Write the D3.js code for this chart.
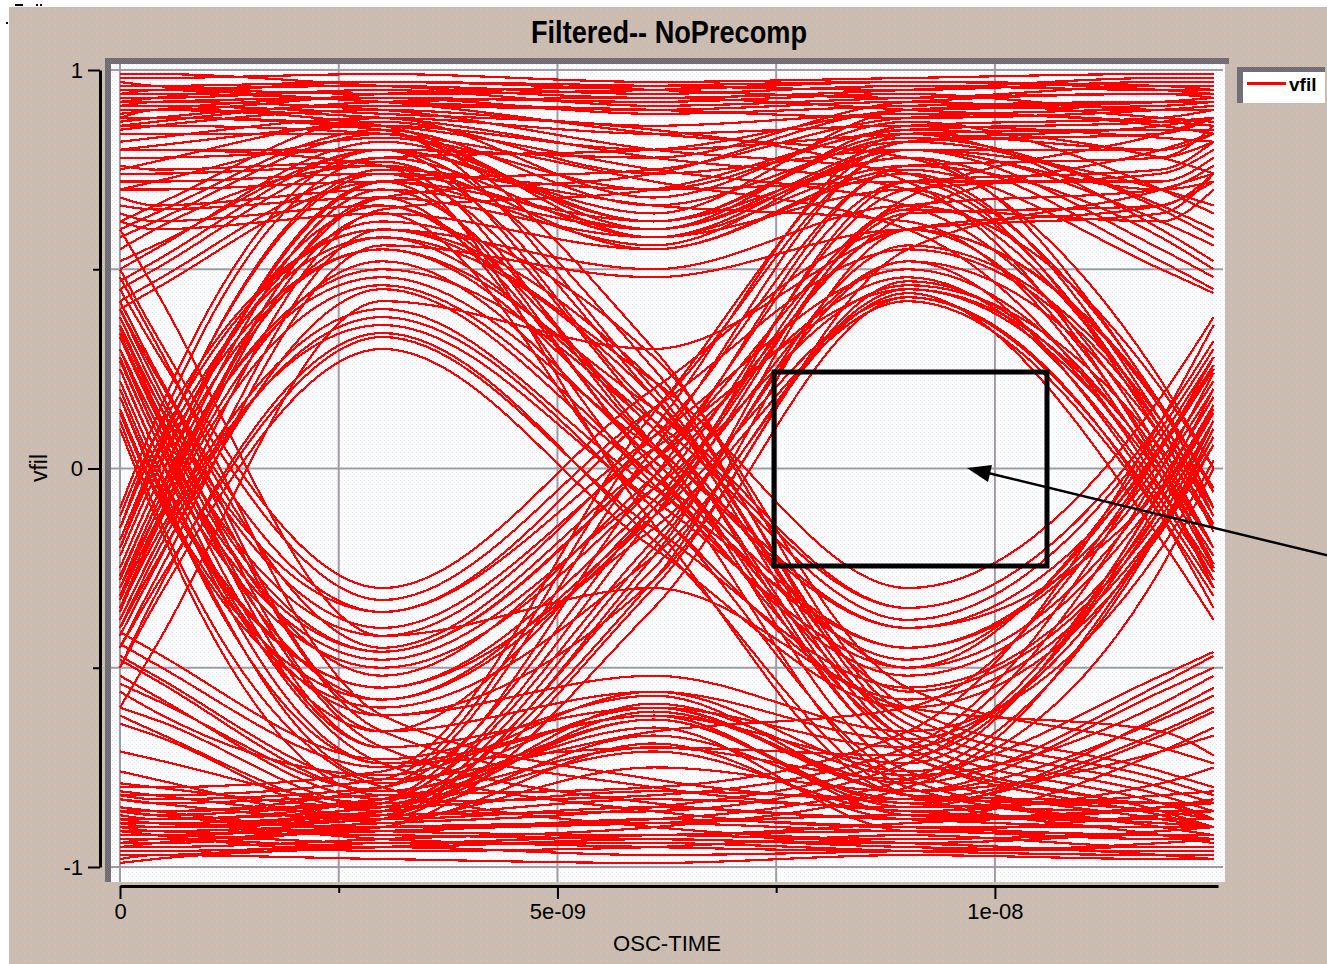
<!DOCTYPE html>
<html>
<head>
<meta charset="utf-8">
<script src="https://cdn.jsdelivr.net/npm/d3@7"></script>
<style>
  body { margin: 0; background: #fff; }
  svg { display: block; font-family: "Liberation Sans", Arial, sans-serif; }
</style>
</head>
<body>
<svg id="chart" width="1327" height="964"></svg>
<script>
// sample instants of every trace (seconds): start, crossing, eye centre, crossing, eye centre, crossing, end
var knotTimes = [0, 0.4e-9, 3.0e-9, 6.1e-9, 9.0e-9, 11.9e-9, 12.5e-9];

// long runs of ones / zeros
var runHigh = [
  [0.98,0.98,0.99,0.97,0.98,0.99,0.99],
  [0.96,0.96,0.97,0.96,0.95,0.97,0.97],
  [0.94,0.95,0.96,0.94,0.96,0.95,0.95],
  [0.93,0.93,0.95,0.91,0.93,0.94,0.93],
  [0.91,0.92,0.93,0.92,0.94,0.90,0.90],
  [0.89,0.90,0.93,0.89,0.91,0.92,0.92],
  [0.87,0.88,0.91,0.90,0.92,0.88,0.87],
  [0.85,0.86,0.90,0.86,0.89,0.87,0.86],
  [0.97,0.96,0.94,0.95,0.97,0.96,0.95],
  [0.92,0.93,0.97,0.95,0.93,0.96,0.96],
  [0.95,0.95,0.92,0.90,0.88,0.90,0.91],
  [0.90,0.90,0.94,0.96,0.97,0.95,0.94],
  [0.82,0.83,0.88,0.84,0.86,0.83,0.82],
  [0.80,0.81,0.86,0.80,0.84,0.85,0.85],
  [0.99,0.99,0.96,0.93,0.95,0.98,0.98],
  [0.86,0.87,0.92,0.93,0.90,0.86,0.84],
  [0.70,0.72,0.83,0.70,0.85,0.78,0.74],
  [0.75,0.77,0.87,0.74,0.80,0.70,0.66]
];
var runLow = [
  [-0.98,-0.97,-0.98,-0.99,-0.97,-0.98,-0.98],
  [-0.96,-0.96,-0.95,-0.97,-0.96,-0.95,-0.95],
  [-0.94,-0.93,-0.95,-0.93,-0.95,-0.96,-0.96],
  [-0.92,-0.92,-0.94,-0.92,-0.91,-0.93,-0.93],
  [-0.90,-0.91,-0.92,-0.93,-0.94,-0.91,-0.90],
  [-0.88,-0.89,-0.91,-0.88,-0.90,-0.92,-0.92],
  [-0.86,-0.87,-0.90,-0.89,-0.91,-0.87,-0.86],
  [-0.83,-0.84,-0.88,-0.85,-0.88,-0.85,-0.84],
  [-0.97,-0.97,-0.94,-0.94,-0.96,-0.97,-0.97],
  [-0.91,-0.92,-0.96,-0.95,-0.92,-0.95,-0.95],
  [-0.95,-0.94,-0.91,-0.89,-0.87,-0.89,-0.90],
  [-0.89,-0.89,-0.93,-0.95,-0.96,-0.94,-0.93],
  [-0.81,-0.82,-0.87,-0.83,-0.85,-0.82,-0.81],
  [-0.79,-0.80,-0.85,-0.81,-0.83,-0.84,-0.84],
  [-0.99,-0.98,-0.95,-0.92,-0.94,-0.97,-0.98],
  [-0.85,-0.86,-0.91,-0.92,-0.89,-0.85,-0.83],
  [-0.71,-0.73,-0.84,-0.71,-0.86,-0.79,-0.75],
  [-0.76,-0.78,-0.88,-0.75,-0.81,-0.71,-0.67]
];

// runs of the same level that sag at the bit boundaries
var highDip = [
  [0.45,0.50,0.78,0.58,0.80,0.55,0.48],
  [0.50,0.55,0.82,0.62,0.84,0.60,0.52],
  [0.55,0.60,0.76,0.55,0.75,0.50,0.44],
  [0.60,0.64,0.85,0.66,0.82,0.65,0.58],
  [0.42,0.47,0.74,0.60,0.86,0.88,0.90],
  [0.88,0.90,0.86,0.60,0.78,0.52,0.45],
  [0.52,0.56,0.80,0.64,0.90,0.92,0.92],
  [0.58,0.62,0.84,0.58,0.76,0.58,0.50],
  [0.47,0.52,0.80,0.62,0.83,0.66,0.60],
  [0.62,0.66,0.88,0.68,0.87,0.70,0.64],
  [0.40,0.45,0.72,0.56,0.80,0.62,0.56]
];
var lowDip = [
  [-0.47,-0.52,-0.79,-0.60,-0.81,-0.56,-0.50],
  [-0.52,-0.57,-0.83,-0.63,-0.85,-0.62,-0.55],
  [-0.56,-0.61,-0.77,-0.56,-0.76,-0.52,-0.46],
  [-0.62,-0.66,-0.86,-0.67,-0.83,-0.66,-0.60],
  [-0.44,-0.49,-0.75,-0.62,-0.87,-0.89,-0.90],
  [-0.89,-0.90,-0.87,-0.61,-0.79,-0.54,-0.47],
  [-0.54,-0.58,-0.81,-0.65,-0.91,-0.92,-0.93],
  [-0.60,-0.63,-0.85,-0.59,-0.77,-0.59,-0.52],
  [-0.48,-0.53,-0.81,-0.63,-0.84,-0.67,-0.61],
  [-0.64,-0.67,-0.89,-0.69,-0.88,-0.71,-0.65],
  [-0.41,-0.46,-0.73,-0.57,-0.81,-0.63,-0.57]
];

// traces starting low (previous bit 0)
var fromLow = [
  // 0 0 0 1
  [-0.92,-0.92,-0.90,-0.88,-0.78,-0.15,0.10],
  [-0.86,-0.87,-0.84,-0.82,-0.70,0.05,0.28],
  [-0.95,-0.95,-0.93,-0.90,-0.80,-0.25,0.00],
  [-0.89,-0.90,-0.87,-0.86,-0.74,-0.05,0.20],
  [-0.83,-0.84,-0.82,-0.80,-0.66,0.12,0.36],
  [-0.91,-0.91,-0.89,-0.85,-0.72,0.00,0.24],
  // 0 0 1 0
  [-0.88,-0.89,-0.86,-0.25,0.45,0.00,-0.25],
  [-0.93,-0.93,-0.90,-0.35,0.43,-0.12,-0.35],
  [-0.82,-0.83,-0.80,-0.10,0.60,0.15,-0.10],
  [-0.90,-0.90,-0.88,-0.30,0.47,-0.05,-0.30],
  [-0.86,-0.86,-0.83,-0.18,0.52,0.08,-0.16],
  [-0.87,-0.88,-0.85,-0.20,0.56,0.12,-0.12],
  // 0 0 1 1
  [-0.90,-0.90,-0.84,-0.12,0.72,0.75,0.82],
  [-0.85,-0.86,-0.80,0.05,0.80,0.70,0.72],
  [-0.94,-0.94,-0.88,-0.22,0.65,0.62,0.70],
  [-0.88,-0.88,-0.83,-0.02,0.76,0.78,0.86],
  [-0.82,-0.82,-0.78,0.10,0.84,0.80,0.84],
  [-0.92,-0.92,-0.86,-0.28,0.60,0.64,0.74],
  [-0.80,-0.80,-0.76,0.14,0.82,0.84,0.88],
  // 0 1 0 0
  [-0.30,-0.10,0.50,0.10,-0.70,-0.86,-0.90],
  [-0.40,-0.22,0.38,-0.10,-0.78,-0.90,-0.92],
  [-0.15,0.05,0.60,0.22,-0.62,-0.78,-0.82],
  [-0.25,-0.05,0.55,0.05,-0.72,-0.87,-0.90],
  [-0.50,-0.32,0.34,-0.18,-0.82,-0.92,-0.94],
  [-0.18,0.02,0.58,0.18,-0.66,-0.82,-0.86],
  [-0.22,-0.02,0.62,0.28,-0.55,-0.70,-0.74],
  [-0.33,-0.14,0.52,0.02,-0.64,-0.80,-0.84],
  [-0.36,-0.16,0.46,-0.02,-0.68,-0.84,-0.88],
  // 0 1 0 1
  [-0.35,-0.18,0.40,-0.05,-0.45,0.02,0.22],
  [-0.20,0.00,0.55,0.15,-0.35,0.12,0.32],
  [-0.45,-0.30,0.33,-0.15,-0.55,-0.10,0.12],
  [-0.28,-0.08,0.48,0.05,-0.40,-0.05,0.15],
  [-0.38,-0.20,0.36,-0.08,-0.50,-0.03,0.18],
  [-0.12,0.08,0.60,0.22,-0.30,0.18,0.38],
  [-0.50,-0.34,0.30,-0.20,-0.60,-0.16,0.06],
  [-0.40,-0.24,0.45,-0.02,-0.48,0.06,0.26],
  [-0.30,-0.10,0.58,0.12,-0.38,0.10,0.30],
  [-0.22,-0.02,0.66,0.10,-0.50,0.08,0.28],
  // 0 1 1 0
  [-0.30,-0.12,0.68,0.58,0.70,0.10,-0.12],
  [-0.20,0.02,0.75,0.66,0.62,-0.02,-0.25],
  [-0.42,-0.25,0.60,0.50,0.66,0.20,0.00],
  [-0.35,-0.15,0.64,0.55,0.74,0.12,-0.10],
  [-0.25,-0.05,0.72,0.62,0.78,0.16,-0.05],
  [-0.45,-0.28,0.56,0.48,0.60,0.02,-0.20],
  [-0.18,0.03,0.74,0.70,0.72,0.08,-0.14],
  // 0 1 1 1
  [-0.25,-0.05,0.72,0.75,0.88,0.90,0.90],
  [-0.15,0.08,0.78,0.80,0.90,0.92,0.93],
  [-0.38,-0.20,0.65,0.70,0.85,0.87,0.88],
  [-0.10,0.12,0.80,0.78,0.92,0.94,0.94],
  [-0.32,-0.12,0.68,0.74,0.90,0.91,0.92],
  [-0.27,-0.08,0.70,0.60,0.82,0.86,0.88],
  [-0.60,-0.45,0.42,0.30,0.60,0.66,0.72]
];

// traces starting high (previous bit 1)
var fromHigh = [
  // 1 0 0 0
  [0.25,0.05,-0.74,-0.86,-0.90,-0.90,-0.90],
  [0.40,0.22,-0.66,-0.80,-0.86,-0.88,-0.88],
  [0.12,-0.10,-0.80,-0.90,-0.93,-0.92,-0.92],
  [0.30,0.12,-0.70,-0.84,-0.88,-0.90,-0.90],
  [0.48,0.32,-0.62,-0.78,-0.84,-0.86,-0.86],
  [0.27,0.08,-0.70,-0.60,-0.82,-0.86,-0.88],
  [0.60,0.45,-0.42,-0.30,-0.60,-0.66,-0.72],
  // 1 0 0 1
  [0.30,0.12,-0.70,-0.60,-0.70,-0.10,0.12],
  [0.18,-0.02,-0.78,-0.66,-0.60,0.05,0.26],
  [0.42,0.25,-0.62,-0.52,-0.66,-0.20,0.02],
  [0.22,0.02,-0.74,-0.62,-0.74,-0.06,0.16],
  [0.10,-0.12,-0.82,-0.70,-0.78,-0.15,0.06],
  [0.36,0.18,-0.66,-0.56,-0.68,-0.14,0.08],
  [0.18,-0.03,-0.74,-0.70,-0.72,-0.08,0.14],
  // 1 0 1 0
  [0.35,0.18,-0.40,0.05,0.45,-0.02,-0.22],
  [0.20,0.00,-0.55,-0.15,0.42,-0.12,-0.32],
  [0.45,0.30,-0.33,0.15,0.55,0.10,-0.12],
  [0.28,0.08,-0.48,-0.05,0.46,0.05,-0.15],
  [0.38,0.20,-0.36,0.08,0.50,0.00,-0.20],
  [0.14,-0.06,-0.60,-0.22,0.44,-0.18,-0.38],
  [0.50,0.34,-0.30,0.20,0.60,0.16,-0.06],
  [0.40,0.24,-0.45,0.02,0.48,-0.06,-0.26],
  [0.30,0.10,-0.58,-0.12,0.43,-0.10,-0.30],
  [0.22,0.02,-0.66,-0.10,0.52,-0.08,-0.28],
  // 1 0 1 1
  [0.30,0.10,-0.46,0.02,0.72,0.72,0.78],
  [0.15,-0.05,-0.58,-0.12,0.64,0.66,0.74],
  [0.42,0.25,-0.36,0.15,0.80,0.80,0.84],
  [0.25,0.05,-0.50,-0.05,0.70,0.74,0.80],
  [0.34,0.15,-0.42,0.08,0.76,0.78,0.82],
  [0.18,-0.02,-0.55,-0.08,0.66,0.70,0.76],
  [0.22,0.02,-0.62,-0.28,0.55,0.70,0.74],
  [0.33,0.14,-0.52,-0.02,0.64,0.80,0.84],
  [0.36,0.16,-0.46,0.02,0.68,0.84,0.88],
  // 1 1 0 0
  [0.72,0.72,0.74,0.12,-0.72,-0.86,-0.90],
  [0.80,0.80,0.80,0.25,-0.64,-0.80,-0.84],
  [0.64,0.62,0.66,0.00,-0.80,-0.90,-0.92],
  [0.76,0.75,0.77,0.18,-0.68,-0.84,-0.88],
  [0.68,0.66,0.70,0.06,-0.76,-0.88,-0.90],
  [0.84,0.84,0.84,0.30,-0.60,-0.76,-0.80],
  [0.80,0.80,0.76,-0.14,-0.82,-0.84,-0.88],
  // 1 1 0 1
  [0.70,0.70,0.72,0.02,-0.45,0.00,0.20],
  [0.78,0.78,0.80,0.15,-0.35,0.12,0.32],
  [0.62,0.60,0.64,-0.10,-0.58,-0.14,0.08],
  [0.74,0.74,0.76,0.06,-0.40,0.05,0.25],
  [0.66,0.65,0.68,-0.04,-0.52,-0.06,0.14],
  [0.87,0.88,0.85,0.20,-0.56,-0.12,0.12],
  // 1 1 1 0
  [0.90,0.90,0.88,0.78,0.70,0.10,-0.12],
  [0.86,0.86,0.84,0.72,0.60,-0.05,-0.28],
  [0.94,0.94,0.92,0.84,0.78,0.22,0.00],
  [0.88,0.88,0.86,0.75,0.66,0.04,-0.20],
  [0.92,0.92,0.90,0.80,0.74,0.16,-0.06],
  [0.91,0.91,0.89,0.85,0.72,0.00,-0.24]
];

var traces = [].concat(runHigh, runLow, highDip, lowDip, fromLow, fromHigh);

var xTicks = [0, 5e-9, 1e-8];
var xTickLabels = ["0", "5e-09", "1e-08"];
var xMinorTicks = [2.5e-9, 7.5e-9];
var yTicks = [1, 0, -1];
var yTickLabels = ["1", "0", "-1"];
var yMinorTicks = [0.5, -0.5];
var gridX = [0, 2.5e-9, 5e-9, 7.5e-9, 1e-8];
var gridY = [1, 0.5, 0, -0.5, -1];

var svg = d3.select("#chart");

var x = d3.scaleLinear().domain([0, 1.255e-8]).range([120, 1218]);
var y = d3.scaleLinear().domain([-1, 1]).range([867, 70]);

// dithered fills
var defs = svg.append("defs");
var bg = defs.append("pattern").attr("id", "bgDots").attr("patternUnits", "userSpaceOnUse")
  .attr("width", 6).attr("height", 8);
bg.append("rect").attr("width", 6).attr("height", 8).attr("fill", "#cabdaf");
bg.append("rect").attr("x", 1).attr("y", 0).attr("width", 1).attr("height", 2).attr("fill", "#efb8a4");
bg.append("rect").attr("x", 4).attr("y", 4).attr("width", 1).attr("height", 2).attr("fill", "#c2b6ee");

var pd = defs.append("pattern").attr("id", "plotDots").attr("patternUnits", "userSpaceOnUse")
  .attr("width", 4).attr("height", 4);
pd.append("rect").attr("width", 4).attr("height", 4).attr("fill", "#ffffff");
pd.append("rect").attr("x", 0).attr("y", 0).attr("width", 1).attr("height", 1).attr("fill", "#ffd6ff");
pd.append("rect").attr("x", 2).attr("y", 2).attr("width", 1).attr("height", 1).attr("fill", "#ccffff");

var fr = defs.append("pattern").attr("id", "frameDots").attr("patternUnits", "userSpaceOnUse")
  .attr("width", 2).attr("height", 2);
fr.append("rect").attr("width", 2).attr("height", 2).attr("fill", "#7e7a5e");
fr.append("rect").attr("x", 1).attr("y", 0).attr("width", 1).attr("height", 1).attr("fill", "#66648e");
fr.append("rect").attr("x", 0).attr("y", 1).attr("width", 1).attr("height", 1).attr("fill", "#66648e");

svg.append("rect").attr("width", 1327).attr("height", 964).attr("fill", "#fff");
svg.append("rect").attr("x", 9).attr("y", 7).attr("width", 1318).attr("height", 957).attr("fill", "url(#bgDots)");

// stray marks in the top left corner
svg.append("rect").attr("x", 15).attr("y", 4).attr("width", 8).attr("height", 2).attr("fill", "#000");
svg.append("rect").attr("x", 36).attr("y", 4).attr("width", 2).attr("height", 2).attr("fill", "#000");
svg.append("rect").attr("x", 40).attr("y", 4).attr("width", 2).attr("height", 2).attr("fill", "#000");
svg.append("rect").attr("x", 6).attr("y", 22).attr("width", 2).attr("height", 2).attr("fill", "#000");

svg.append("text")
  .attr("x", 669).attr("y", 43)
  .attr("text-anchor", "middle")
  .attr("font-size", 32).attr("font-weight", "bold")
  .attr("textLength", 276).attr("lengthAdjust", "spacingAndGlyphs")
  .text("Filtered-- NoPrecomp");

// plot frame
svg.append("rect").attr("x", 105).attr("y", 58).attr("width", 1124).attr("height", 6).attr("fill", "url(#frameDots)");
svg.append("rect").attr("x", 105).attr("y", 58).attr("width", 6).attr("height", 824).attr("fill", "url(#frameDots)");
svg.append("rect").attr("x", 111).attr("y", 64).attr("width", 1114).attr("height", 818).attr("fill", "url(#plotDots)");

var grid = svg.append("g").attr("stroke", "#9d9ca6").attr("stroke-width", 2);
grid.selectAll(".gx").data(gridX).join("line")
  .attr("x1", function(d) { return x(d); }).attr("x2", function(d) { return x(d); })
  .attr("y1", 64).attr("y2", 882);
grid.selectAll(".gy").data(gridY).join("line")
  .attr("x1", 111).attr("x2", 1223)
  .attr("y1", function(d) { return y(d); }).attr("y2", function(d) { return y(d); });

var line = d3.line()
  .x(function(d, i) { return x(knotTimes[i]); })
  .y(function(d) { return y(d); })
  .curve(d3.curveMonotoneX);

svg.append("g")
  .attr("fill", "none").attr("stroke", "#ff0000").attr("stroke-width", 2.2)
  .attr("shape-rendering", "crispEdges")
  .selectAll("path").data(traces).join("path")
  .attr("d", line);

// axes
var yAxis = svg.append("g").attr("transform", "translate(100,0)")
  .call(d3.axisLeft(y).tickValues(yTicks).tickFormat(function(d, i) { return yTickLabels[i]; })
    .tickSize(12).tickSizeOuter(0).tickPadding(5));
yAxis.select(".domain").attr("stroke-width", 3);
yAxis.selectAll(".tick line").attr("stroke-width", 2);
yAxis.selectAll("text").attr("font-size", 22).attr("fill", "#000").attr("font-family", "Liberation Sans, Arial, sans-serif");

var yMinor = svg.append("g").attr("transform", "translate(100,0)")
  .call(d3.axisLeft(y).tickValues(yMinorTicks).tickFormat("").tickSize(7).tickSizeOuter(0));
yMinor.select(".domain").remove();
yMinor.selectAll(".tick line").attr("stroke-width", 2);

var xAxis = svg.append("g").attr("transform", "translate(0,886)")
  .call(d3.axisBottom(x).tickValues(xTicks).tickFormat(function(d, i) { return xTickLabels[i]; })
    .tickSize(13).tickSizeOuter(0).tickPadding(4));
xAxis.select(".domain").attr("stroke-width", 3);
xAxis.selectAll(".tick line").attr("stroke-width", 2);
xAxis.selectAll("text").attr("font-size", 22).attr("fill", "#000").attr("font-family", "Liberation Sans, Arial, sans-serif");

var xMinor = svg.append("g").attr("transform", "translate(0,886)")
  .call(d3.axisBottom(x).tickValues(xMinorTicks).tickFormat("").tickSize(7).tickSizeOuter(0));
xMinor.select(".domain").remove();
xMinor.selectAll(".tick line").attr("stroke-width", 2);

svg.append("text")
  .attr("x", 667).attr("y", 951)
  .attr("text-anchor", "middle").attr("font-size", 22)
  .attr("textLength", 108).attr("lengthAdjust", "spacingAndGlyphs")
  .text("OSC-TIME");

svg.append("text")
  .attr("transform", "translate(47,468) rotate(-90)")
  .attr("text-anchor", "middle").attr("font-size", 23)
  .text("vfil");

// legend
svg.append("rect").attr("x", 1237).attr("y", 67).attr("width", 88).attr("height", 5).attr("fill", "url(#frameDots)");
svg.append("rect").attr("x", 1237).attr("y", 67).attr("width", 6).attr("height", 36).attr("fill", "url(#frameDots)");
svg.append("rect").attr("x", 1243).attr("y", 72).attr("width", 82).attr("height", 31).attr("fill", "#fff");
svg.append("line").attr("x1", 1247).attr("x2", 1286).attr("y1", 83.5).attr("y2", 83.5)
  .attr("stroke", "#ff0000").attr("stroke-width", 3);
svg.append("text").attr("x", 1289).attr("y", 91)
  .attr("font-size", 19).attr("font-weight", "bold").text("vfil");

// annotation: eye-opening box and pointer
svg.append("rect").attr("x", 774).attr("y", 372).attr("width", 273).attr("height", 194)
  .attr("fill", "none").attr("stroke", "#000").attr("stroke-width", 5);
svg.append("line").attr("x1", 1330).attr("y1", 556).attr("x2", 988).attr("y2", 473)
  .attr("stroke", "#000").attr("stroke-width", 2.5);
svg.append("polygon").attr("points", "967,468 988,482 992,465").attr("fill", "#000");
</script>
</body>
</html>
